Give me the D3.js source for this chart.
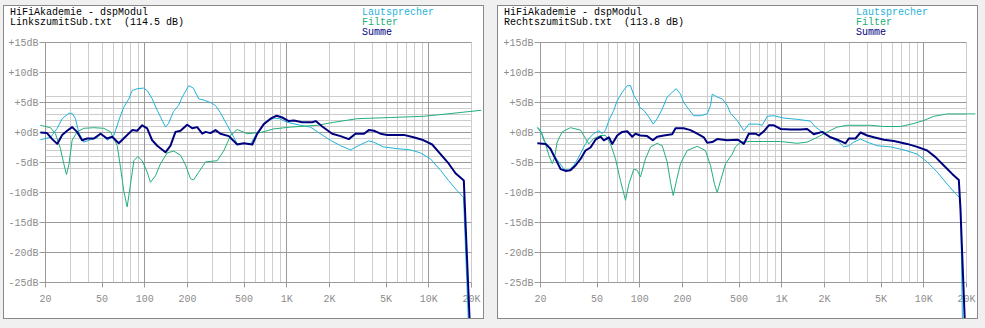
<!DOCTYPE html>
<html>
<head>
<meta charset="utf-8">
<script src="https://cdn.jsdelivr.net/npm/d3@7"></script>
<style>
  html, body { margin: 0; padding: 0; background: #f0f0f0; }
  svg { display: block; }
  text { font-family: "Liberation Mono", "DejaVu Sans Mono", monospace; font-size: 10px; white-space: pre; }
</style>
</head>
<body>
<svg id="chart" width="985" height="328"></svg>
<script>
// Axis ticks and labels
const freqTicks = [20, 50, 100, 200, 500, 1000, 2000, 5000, 10000, 20000];
const freqTickLabels = ["20", "50", "100", "200", "500", "1K", "2K", "5K", "10K", "20K"];
const freqMajorLines = [100, 1000, 10000];
const freqMinorLines = [30, 40, 50, 60, 70, 80, 90, 200, 300, 400, 500, 600, 700, 800, 900,
                        2000, 3000, 4000, 5000, 6000, 7000, 8000, 9000, 20000];
const dbTicks = [15, 10, 5, 0, -5, -10, -15, -20, -25];
const dbTickLabels = ["+15dB", "+10dB", "+5dB", "+0dB", "-5dB", "-10dB", "-15dB", "-20dB", "-25dB"];
const dbMinorLines = [6, 4, 3, 2, 1, -1, -2, -3, -4, -6];

// Legend / series names
const seriesNames = ["Lautsprecher", "Filter", "Summe"];
const headline = "HiFiAkademie - dspModul";
const fileLabels = ["LinkszumitSub.txt  (114.5 dB)", "RechtszumitSub.txt  (113.8 dB)"];

// Left channel: [frequency Hz, level dB]
const linksLautsprecher = [
  [18.4,-1.2],[21.7,-0.8],[24.2,0.7],[26.2,2.3],[29.2,3.2],[30.8,3.2],[32.5,2.3],[34.3,0],[37.2,-1.6],
  [41.5,-1.2],[46.2,-0.9],[48.8,-0.1],[54.4,-1.3],[60.6,-0.5],[65.6,2],[71.1,4.2],[77.2,5.6],[81.6,7],
  [88.5,7.3],[98,7.4],[104,7],[112.8,5.6],[122.4,3.7],[129.1,2.6],[140,0.9],[146.9,1.5],[159.3,3.5],
  [173,4.5],[183.6,5.9],[204,7.8],[220,7.4],[240,5.6],[261,5.4],[290,5],[315,4.5],[341,3.3],[381,1.2],
  [424,-0.8],[448,-1.9],[498,-1.8],[556,-1.9],[620,0],[708,1.7],[811,2.4],[889,2.3],[1007,1.7],
  [1250,1.2],[1470,0.9],[1674,0],[2033,-1.3],[2390,-2.2],[2812,-2.9],[3200,-2.2],[3767,-1.4],
  [4083,-1.6],[4800,-2.4],[6000,-2.7],[7435,-2.9],[8750,-3.4],[10280,-4.4],[12100,-6.3],
  [13770,-8],[15860,-9.7],[17570,-10.8],[19050,-32]
];
const linksFilter = [
  [18.4,1.2],[21.7,0.8],[23.5,-0.2],[25.5,-2.7],[26.9,-5.2],[28.1,-7],[29.2,-5.4],[30.8,-1.3],
  [33.4,0.1],[37.2,0.7],[43.8,0.8],[51.5,0.7],[57.4,0.1],[64,-2.2],[67.5,-5.8],[71.1,-9.7],
  [75.2,-12.4],[79.4,-8.6],[83.8,-4.7],[89.3,-4],[95.9,-4.7],[104,-6.6],[109.7,-8.3],[119.1,-7.2],
  [129.1,-5.2],[143.9,-3.4],[160.2,-3.1],[178.6,-3.8],[193.6,-5.4],[210,-7.7],[221,-7.9],[240,-6.6],
  [268,-4.9],[324,-4.7],[361,-3],[402,-0.5],[448,0.5],[526,-0.2],[654,0],[811,0.6],[1062,0.9],
  [1637,1.2],[2143,1.7],[3133,2.3],[5383,2.5],[9230,2.7],[13490,3.1],[23400,3.7]
];
const linksSumme = [
  [18.4,0],[20.5,-0.1],[22.3,-1.1],[24.2,-1.9],[26.2,-0.4],[28.4,0.3],[30.8,0.9],[33.4,0.1],
  [36.2,-1.3],[39.3,-1],[43.8,-1],[48.8,-0.2],[54.4,-1],[59,-0.7],[65.6,-1.8],[73.1,-0.7],
  [81.6,0.4],[88.5,0.3],[95.9,1.2],[104,0.7],[112.8,-1.3],[122.4,-2.2],[140,-3.3],[151.8,-2.2],
  [164.6,0.1],[178.6,0.3],[199,1.3],[216,0.7],[234,0.9],[254,-0.2],[268,0.1],[290,-0.1],[315,0.4],
  [341,-0.2],[391,-0.6],[448,-2],[498,-1.8],[572,-2],[620,-0.2],[689,1.4],[769,2.3],[848,2.8],
  [929,2.5],[1033,1.9],[1122,2.0],[1285,1.7],[1510,1.7],[1600,1.9],[1778,1.0],[2090,-0.2],
  [2390,-0.6],[2735,-1.1],[3048,-0.2],[3500,-0.2],[3785,0.4],[4103,0.3],[4573,-0.2],[5095,-0.4],
  [6670,-0.4],[7810,-0.8],[8990,-1.2],[10570,-2],[12100,-3.6],[13840,-5.2],[15430,-6.8],
  [17660,-8],[18150,-15],[19460,-32]
];

// Right channel: [frequency Hz, level dB]
const rechtsLautsprecher = [
  [19,0.9],[20,0.4],[21.1,-1.3],[22.9,-2.4],[24.8,-3.8],[26.9,-4.9],[29.2,-6.1],[31.6,-6.3],
  [34.3,-5.5],[37.2,-4.1],[40.4,-2.4],[43.8,-1],[47.4,-0.2],[51.5,0.3],[54.4,-0.2],[57.4,0.4],
  [60.6,2],[65.6,3.7],[69.4,5.3],[75.2,6.7],[81.6,7.8],[86.1,7.8],[90.8,6.2],[95.9,5.3],[100,4.2],
  [106.7,3.7],[115.8,2.6],[124.4,1.4],[132.7,2.3],[143.9,3.9],[156,5.9],[169.2,6.7],[180.6,7.3],
  [193.6,6.4],[204,5],[221,3.9],[240,2.8],[268,2.8],[298.5,3.1],[315,4.5],[324,6.4],[351,5.9],
  [381,5.6],[413,4.5],[436,3.2],[485,2],[541,0.3],[586,1.4],[672,1.4],[728,1.2],[790,2.7],
  [880,2.8],[1033,2.4],[1285,2.2],[1593,1.9],[1729,0.9],[1927,0.1],[2204,-0.8],[2523,-1.6],
  [2735,-2.4],[2967,-2.2],[3215,-1.6],[3589,-1.1],[4000,-1.6],[4700,-2.2],[5836,-2.4],
  [7245,-2.9],[8990,-3.6],[10570,-4.9],[12440,-6.6],[14620,-8.6],[16750,-10.2],[18150,-11],
  [18750,-32]
];
const rechtsFilter = [
  [19,0.8],[20.5,-0.2],[21.7,-1.9],[22.9,-3.8],[24.2,-5.2],[25.1,-4.2],[26.2,-1.6],[28.4,0.1],
  [32.5,0.8],[38.3,0.4],[41.5,-1],[43.8,-1.9],[47.4,-1],[53,-0.5],[57.4,-0.5],[62.2,-1.9],
  [67.5,-4.4],[73.1,-8],[79.4,-11.3],[83.8,-8.6],[90.8,-6.1],[95.9,-6.3],[101.2,-7.4],[109.7,-4.4],
  [119.1,-2.4],[132.7,-1.8],[143.9,-2.2],[156,-4.9],[164.6,-8.3],[172,-10.5],[181.5,-8],
  [193.6,-5.2],[216,-3],[254,-2.3],[290,-3],[315,-5.5],[336,-8.6],[351,-10],[371,-8],[402,-5.2],
  [448,-3.6],[472,-2.4],[512,-1.6],[603,-1.5],[748,-1.5],[980,-1.5],[1285,-1.8],[1510,-1.6],
  [1778,-0.8],[2090,0.1],[2457,0.9],[2891,1.2],[4218,1.2],[5236,1],[6858,1],[8513,1.5],
  [10000,2],[11780,2.7],[14620,3.1],[23130,3.1]
];
const rechtsSumme = [
  [19,-1.8],[21.7,-1.9],[23.5,-2.7],[25.5,-4.4],[27.7,-6.1],[30,-6.4],[32.5,-6.3],[35.3,-5.5],
  [38.3,-4.4],[41.5,-3],[45,-2.5],[48.8,-1.2],[53,-0.7],[55.8,-1.3],[60.6,-0.8],[64,-1.9],
  [69.4,-0.5],[75.2,0.1],[81.6,0.2],[88.5,-0.7],[93.3,-0.2],[101.2,-0.5],[112.8,-0.6],[123.6,-1.3],
  [132.7,-0.7],[147.7,-0.5],[169.2,-0.3],[178.6,0.7],[204,0.7],[227.5,0.4],[254,-0.2],[282.5,-0.8],
  [298.5,-1.7],[324,-1.6],[351,-1.1],[413,-1.3],[485,-1.2],[498,-1.3],[541,-1.9],[586,-0.2],
  [654,-0.2],[689,-0.5],[748,0.2],[811,1.2],[880,1.2],[980,0.6],[1153,0.5],[1355,0.5],[1510,0.6],
  [1681,-0.3],[1927,0.1],[2204,-0.8],[2523,-1.3],[2812,-1.8],[2967,-1],[3304,-1],[3589,0],
  [4000,-0.5],[4449,-0.8],[5236,-1.2],[6155,-1.4],[7638,-1.9],[8990,-2.4],[10570,-3],[12100,-4.1],
  [13840,-5.5],[15860,-6.9],[17660,-7.9],[18150,-13],[19460,-31.5]
];

const seriesColors = ["#1fb3d8", "#22b07a", "#00007f"];
const seriesWidths = [1, 1, 2];

const panels = [
  { frameX: 3,   plotX: 45.5,  file: fileLabels[0], series: [linksLautsprecher, linksFilter, linksSumme] },
  { frameX: 497, plotX: 540.5, file: fileLabels[1], series: [rechtsLautsprecher, rechtsFilter, rechtsSumme] }
];

const svg = d3.select("#chart");
const frameW = 480, frameTop = 5, frameH = 313;
const gridMajor = "#9a9a9a", gridMinor = "#cdcdcd", labelGray = "#8c8c8c";

panels.forEach((p, i) => {
  const g = svg.append("g");

  g.append("rect")
    .attr("x", p.frameX + 0.5).attr("y", frameTop + 0.5)
    .attr("width", frameW).attr("height", frameH)
    .attr("fill", "#fff").attr("stroke", "#888");

  const x = d3.scaleLog().domain([20, 20000]).range([p.plotX, p.plotX + 426]);
  const y = d3.scaleLinear().domain([15, -25]).range([42.5, 282.5]);

  // vertical grid
  g.selectAll(".vmin").data(freqMinorLines).join("line")
    .attr("x1", d => Math.round(x(d) - 0.5) + 0.5).attr("x2", d => Math.round(x(d) - 0.5) + 0.5)
    .attr("y1", y(15)).attr("y2", y(-25))
    .attr("stroke", gridMinor);
  // horizontal grid
  g.selectAll(".hmin").data(dbMinorLines).join("line")
    .attr("x1", x(20)).attr("x2", x(20000))
    .attr("y1", d => y(d)).attr("y2", d => y(d))
    .attr("stroke", gridMinor);
  g.selectAll(".hmaj").data(dbTicks).join("line")
    .attr("x1", x(20) - 6).attr("x2", x(20000))
    .attr("y1", d => y(d)).attr("y2", d => y(d))
    .attr("stroke", gridMajor);
  g.selectAll(".vmaj").data(freqMajorLines).join("line")
    .attr("x1", d => Math.round(x(d) - 0.5) + 0.5).attr("x2", d => Math.round(x(d) - 0.5) + 0.5)
    .attr("y1", y(15)).attr("y2", y(-25))
    .attr("stroke", gridMajor);
  // y axis line
  g.append("line")
    .attr("x1", x(20)).attr("x2", x(20))
    .attr("y1", y(15)).attr("y2", y(-25))
    .attr("stroke", gridMajor);
  // x tick marks below the axis
  g.selectAll(".xt").data(freqTicks).join("line")
    .attr("x1", d => Math.round(x(d) - 0.5) + 0.5).attr("x2", d => Math.round(x(d) - 0.5) + 0.5)
    .attr("y1", y(-25)).attr("y2", y(-25) + 5)
    .attr("stroke", gridMajor);

  // tick labels
  g.selectAll(".yl").data(dbTicks).join("text")
    .attr("x", x(20) - 7).attr("y", d => y(d) + 3.5)
    .attr("text-anchor", "end").attr("fill", labelGray)
    .text((d, k) => dbTickLabels[k]);
  g.selectAll(".xl").data(freqTicks).join("text")
    .attr("x", d => x(d)).attr("y", 302)
    .attr("text-anchor", "middle").attr("fill", labelGray)
    .text((d, k) => freqTickLabels[k]);

  // curves, clipped to the frame
  const clipId = "clip" + i;
  svg.append("clipPath").attr("id", clipId)
    .append("rect")
    .attr("x", p.frameX + 1).attr("y", frameTop + 1)
    .attr("width", frameW - 1).attr("height", frameH - 1);

  const line = d3.line().x(d => x(d[0])).y(d => y(d[1]));
  const curves = g.append("g").attr("clip-path", `url(#${clipId})`);
  p.series.forEach((s, k) => {
    curves.append("path")
      .datum(s)
      .attr("d", line)
      .attr("fill", "none")
      .attr("stroke", seriesColors[k])
      .attr("stroke-width", seriesWidths[k])
      .attr("stroke-linejoin", "round");
  });

  // header text
  g.append("text").attr("x", p.frameX + 7).attr("y", 15).attr("fill", "#000").text(headline);
  g.append("text").attr("x", p.frameX + 7).attr("y", 25).attr("fill", "#000").text(p.file);

  // legend
  g.selectAll(".lg").data(seriesNames).join("text")
    .attr("x", p.frameX + 359).attr("y", (d, k) => 15 + k * 10)
    .attr("fill", (d, k) => seriesColors[k])
    .text(d => d);
});
</script>
</body>
</html>
